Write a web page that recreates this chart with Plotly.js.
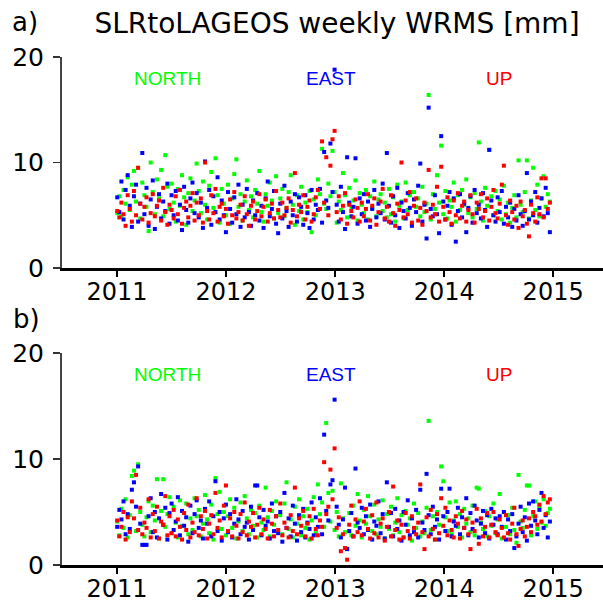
<!DOCTYPE html>
<html>
<head>
<meta charset="utf-8">
<script src="https://cdn.plot.ly/plotly-3.0.1.min.js"></script>
<style>html,body{margin:0;padding:0;background:#fff;}#chart{width:603px;height:603px;}</style>
</head>
<body>
<div id="chart"></div>
<script>
// ---- data ----
const firstWeek = '2011-01-02';   // first weekly solution
const seriesNames = ['NORTH', 'EAST', 'UP'];
const xTickYears = ['2011', '2012', '2013', '2014', '2015'];
const chartTitle = 'SLRtoLAGEOS weekly WRMS [mm]';

// panel a) weekly WRMS [mm]
const northA = [
  5.2,6.8,4.9,7.4,6.1,8.6,5.5,7.9,9.2,6.3,9.5,4.7,8.1,
  6.9,5.8,3.5,10.0,7.2,5.1,8.4,6.6,9.3,4.9,10.7,7.7,5.6,
  8.0,6.2,4.4,7.5,5.9,8.8,6.7,4.1,7.1,8.5,5.4,6.4,9.9,
  7.3,5.2,8.2,6.0,4.6,7.8,9.1,5.7,10.4,6.9,4.3,7.5,6.1,
  5.0,7.9,4.2,6.6,8.9,10.3,5.8,7.0,4.5,6.3,8.3,5.5,6.8,
  4.8,7.4,6.1,9.2,5.3,4.4,7.0,5.9,8.1,6.4,4.7,8.7,5.2,
  6.6,7.5,4.9,5.7,7.2,8.8,6.0,4.1,6.9,5.4,7.7,4.6,6.2,
  5.3,7.3,3.4,6.5,5.0,8.4,7.0,11.3,6.1,5.6,8.0,6.8,11.1,
  7.2,4.3,6.3,5.5,9.0,6.9,4.8,7.6,5.8,6.4,8.3,4.5,7.1,
  6.0,5.2,7.4,4.6,6.8,5.7,8.2,4.9,6.5,7.0,5.4,6.2,4.8,
  7.5,5.1,6.7,4.4,7.9,5.9,6.3,4.7,8.1,5.5,6.9,4.2,7.2,
  5.8,6.6,4.9,7.7,5.3,6.1,16.4,4.6,7.0,5.6,8.8,6.2,11.6,
  5.1,7.3,4.7,6.4,5.8,8.1,4.4,6.9,5.5,7.4,6.0,8.4,5.2,
  6.7,4.8,7.1,5.6,11.9,6.3,4.5,7.6,5.9,11.2,6.8,5.0,7.3,
  5.4,6.5,4.6,7.8,5.1,6.2,4.3,5.7,6.9,4.8,10.2,6.0,5.3,
  7.2,10.2,4.7,6.4,9.5,5.5,7.9,4.9,6.6,8.7,5.8,7.0,6.3
];
const eastA = [
  6.7,5.3,8.2,4.6,7.4,8.8,5.9,3.9,6.8,7.9,4.4,6.1,10.9,
  5.1,7.6,4.0,6.5,8.3,3.7,5.8,7.0,4.7,6.3,5.4,8.0,4.2,
  6.9,5.0,7.3,4.5,6.0,3.6,7.7,5.5,4.3,6.6,8.1,5.2,7.1,
  4.8,6.2,3.8,10.1,5.7,7.4,4.1,6.8,5.3,8.6,4.6,6.4,5.0,
  3.4,7.2,5.6,4.3,6.7,5.1,7.9,3.9,6.0,4.8,7.5,5.3,4.0,
  6.4,5.0,7.1,4.5,5.9,3.8,6.6,8.2,4.9,5.6,7.3,4.2,3.3,
  6.1,4.7,7.8,5.4,3.9,6.3,5.0,7.0,4.4,6.7,5.8,4.1,6.9,
  5.2,3.8,7.4,4.6,6.0,5.5,7.5,4.3,11.0,6.4,5.7,11.8,7.2,
  18.8,6.0,4.4,7.7,5.3,3.7,10.5,6.2,4.9,5.8,10.4,4.2,6.6,
  5.1,7.0,4.5,6.3,3.9,5.6,7.4,4.8,6.1,5.2,8.0,4.6,10.9,
  5.9,4.3,6.8,5.0,7.6,3.8,6.2,5.4,4.7,7.1,5.7,4.0,6.5,
  5.3,7.8,9.9,4.4,6.0,2.8,15.2,5.6,4.9,6.9,5.1,3.3,12.5,
  6.3,4.6,5.9,7.2,4.1,6.6,2.5,5.4,7.0,4.8,6.1,3.4,5.7,
  6.8,4.3,7.4,5.2,6.0,4.7,7.1,5.5,3.9,11.2,6.4,5.0,4.4,
  6.7,5.3,7.3,4.2,5.8,4.8,6.2,3.9,5.6,4.5,6.9,5.1,4.0,
  5.4,9.0,4.6,6.3,5.0,7.2,4.3,5.7,6.6,4.9,7.6,5.2,3.4
];
const upA = [
  5.4,4.8,6.2,5.1,4.0,6.9,5.6,4.4,7.3,5.0,9.5,6.1,4.6,
  5.8,6.7,4.3,5.2,7.0,4.9,5.9,6.4,4.5,7.6,5.3,4.1,6.0,
  5.5,4.7,6.8,5.1,7.4,4.2,5.7,6.3,4.8,5.9,7.1,4.5,6.2,
  5.0,6.6,4.3,10.0,5.4,4.6,6.9,5.2,7.5,4.4,5.8,6.1,4.9,
  5.6,4.2,6.5,5.0,7.2,4.7,5.3,6.0,4.5,6.8,5.1,4.0,5.9,
  6.3,4.6,5.4,7.0,4.9,5.8,6.5,4.4,5.2,6.1,4.7,7.3,5.5,
  4.8,6.2,5.0,5.7,6.6,4.3,5.5,9.0,4.9,6.0,5.3,6.9,4.6,
  5.8,6.4,4.4,5.1,6.7,7.4,5.6,12.0,6.2,10.5,5.0,9.7,12.2,
  13.0,5.3,6.8,4.6,5.9,7.1,4.2,6.0,5.4,4.8,6.5,5.7,4.4,
  6.2,4.9,5.6,7.0,4.5,5.9,6.6,4.1,5.3,6.3,7.5,4.7,5.8,
  4.4,6.9,5.2,4.0,6.1,5.5,10.0,4.8,6.4,5.1,7.2,4.3,5.9,
  6.6,4.5,5.7,4.1,6.2,5.4,9.3,4.8,6.0,5.1,7.7,4.4,9.6,
  5.8,4.6,6.7,5.3,4.2,6.4,5.0,7.1,4.7,5.9,6.3,4.4,5.5,
  6.9,5.1,4.3,6.2,5.6,7.0,4.8,5.4,6.6,4.5,5.8,7.4,5.2,
  4.7,6.1,7.9,9.7,5.0,4.1,6.4,5.3,4.6,5.9,3.8,6.3,4.9,
  5.5,4.2,3.0,6.0,5.2,4.4,6.7,5.1,8.5,4.8,8.5,5.6,6.2
];

// panel b) weekly WRMS [mm]
const northB = [
  4.1,2.8,5.3,3.5,6.2,2.6,4.7,8.4,8.9,3.2,9.5,5.0,3.8,
  2.7,4.5,6.0,3.1,5.6,4.2,8.1,2.5,5.1,8.1,3.6,4.8,6.4,
  3.0,5.5,4.0,2.6,6.1,3.7,4.9,5.8,2.9,4.4,3.3,6.3,4.6,
  5.2,2.7,3.9,6.6,4.3,3.0,5.7,2.4,8.2,4.8,6.9,3.4,5.0,
  2.8,4.6,6.2,3.5,5.4,2.5,4.1,5.9,3.2,6.5,4.4,2.9,5.2,
  3.7,4.9,2.6,5.6,4.0,3.3,7.3,4.5,2.7,5.1,3.8,6.0,3.1,
  4.7,2.9,5.8,7.8,3.4,4.3,2.6,5.5,3.9,6.2,2.8,4.6,3.5,
  5.3,2.4,4.2,6.4,3.0,7.6,4.8,5.9,3.6,13.4,6.8,4.1,7.0,
  3.3,5.0,2.7,7.7,4.4,3.1,1.5,4.9,2.8,5.6,3.7,6.7,4.2,
  2.6,5.2,3.9,6.5,4.6,3.2,5.7,2.9,4.3,3.6,6.1,2.5,4.8,
  3.4,5.5,2.8,4.0,6.3,3.1,4.7,2.6,5.1,3.8,4.4,2.3,5.8,
  3.5,4.9,2.7,4.1,3.0,5.4,13.6,3.3,4.6,2.4,5.0,3.8,9.3,
  7.9,4.5,3.2,5.9,2.9,4.2,6.0,3.6,4.8,2.6,5.3,3.9,4.4,
  3.1,5.6,2.8,7.3,7.2,4.0,3.4,5.1,2.7,4.6,3.7,5.8,3.0,
  4.3,6.7,2.5,5.0,3.6,4.7,2.9,5.4,3.3,2.1,8.5,4.1,3.5,
  5.2,7.5,7.5,2.8,4.6,6.0,3.4,5.5,4.0,6.2,3.7,4.9,5.3
];
const eastB = [
  3.6,5.2,4.3,6.0,2.9,4.8,3.4,7.1,7.8,5.5,9.3,3.9,1.9,
  1.9,1.9,4.6,6.3,3.1,5.0,2.6,4.4,6.7,3.8,5.4,2.4,4.9,
  5.8,3.3,4.1,6.4,2.8,5.1,3.7,4.5,2.2,5.6,3.0,4.8,6.1,
  3.5,4.2,2.5,5.3,3.9,6.0,2.7,4.6,7.9,3.2,5.0,2.3,4.4,
  5.7,3.1,4.8,2.6,3.9,6.2,4.3,2.9,5.1,3.6,4.0,2.4,5.5,
  3.3,7.5,7.5,4.5,2.8,5.2,3.7,4.1,2.5,5.8,3.2,4.6,3.0,
  5.0,2.2,6.8,3.5,4.4,2.7,5.6,3.9,2.3,4.7,3.1,5.3,2.6,
  4.0,3.4,5.9,2.8,4.5,3.6,6.3,2.9,12.3,5.1,4.2,7.6,8.0,
  15.6,5.5,3.8,2.6,4.3,7.3,1.5,3.2,4.9,2.7,9.1,4.0,3.5,
  5.4,2.9,4.6,3.3,5.7,2.4,4.1,3.7,6.0,3.0,4.8,2.5,7.8,
  3.6,4.9,2.7,5.3,3.4,4.2,2.3,5.0,3.8,6.1,2.8,4.4,3.1,
  5.2,2.6,7.1,4.0,3.3,8.6,4.7,2.9,5.5,3.6,4.3,2.4,7.2,
  4.6,3.2,5.0,7.2,2.7,4.1,3.7,5.4,2.9,4.5,3.5,6.3,2.8,
  4.9,3.4,5.6,4.2,2.6,3.9,5.1,3.0,4.7,2.5,5.3,3.8,4.4,
  2.9,4.6,3.6,5.0,2.4,4.3,3.2,4.8,1.6,2.7,3.9,5.5,3.1,
  4.5,2.3,5.8,3.7,6.0,4.2,2.9,5.2,6.8,3.5,4.7,2.6,4.1
];
const upB = [
  4.2,2.7,3.6,5.0,2.4,4.5,3.1,6.0,4.4,8.5,3.3,5.4,2.9,
  4.0,3.5,6.2,2.6,4.8,3.2,5.5,2.5,4.1,3.8,6.5,2.8,4.6,
  3.0,5.2,2.7,4.3,3.6,2.4,4.9,3.3,5.7,2.6,4.0,3.1,6.3,
  2.8,4.6,3.4,5.1,2.5,3.9,4.7,2.9,6.8,3.5,4.2,2.6,5.6,
  7.5,3.2,4.4,2.7,5.0,3.7,2.5,4.8,3.1,5.9,2.8,4.1,3.6,
  4.9,2.6,3.8,5.4,2.9,4.3,3.4,2.5,5.2,3.9,2.7,4.6,3.3,
  5.8,2.8,4.0,3.5,2.6,4.7,3.2,7.3,2.9,4.4,3.7,5.1,2.7,
  3.9,4.6,2.5,5.3,3.4,2.8,4.2,3.6,9.7,4.8,5.5,9.0,6.2,
  11.0,3.5,4.5,1.3,2.9,1.6,0.5,3.8,5.6,2.7,4.3,3.1,6.0,
  2.8,4.1,5.3,3.4,2.5,4.7,3.0,5.9,2.6,3.9,4.4,2.3,3.6,
  5.0,2.7,7.4,3.3,4.2,2.4,3.8,2.6,4.9,3.2,2.5,4.6,3.5,
  2.9,4.0,7.6,3.1,1.5,4.5,2.7,5.2,3.4,2.4,4.8,3.0,6.3,
  3.7,5.4,2.8,4.2,3.3,2.6,4.6,3.9,2.5,5.1,3.5,4.3,2.9,
  1.5,4.0,3.2,5.3,2.0,4.4,2.7,3.6,4.9,2.6,3.8,5.0,3.1,
  2.8,4.3,3.5,2.6,4.7,3.0,2.4,3.9,5.4,2.9,1.8,3.4,4.2,
  2.7,3.6,4.4,3.1,5.0,4.6,3.8,5.7,4.1,6.5,4.8,5.9,6.2
];

// ---- build ----
function weekDates(n) {
  const t0 = Date.parse(firstWeek + 'T00:00:00Z');
  const out = [];
  for (let i = 0; i < n; i++) {
    out.push(new Date(t0 + i * 7 * 86400000).toISOString().slice(0, 10));
  }
  return out;
}
const colors = ['#00ff00', '#0000ff', '#ff0000'];
const font = 'DejaVu Sans, Verdana, sans-serif';

function mk(vals, ci, xa, ya) {
  return {
    type: 'scatter', mode: 'markers',
    x: weekDates(vals.length), y: vals,
    xaxis: xa, yaxis: ya,
    marker: {symbol: 'square', size: 4, color: colors[ci], line: {width: 0}},
    name: seriesNames[ci], showlegend: false, hoverinfo: 'x+y'
  };
}
const traces = [
  mk(northA, 0, 'x', 'y'), mk(eastA, 1, 'x', 'y'), mk(upA, 2, 'x', 'y'),
  mk(northB, 0, 'x2', 'y2'), mk(eastB, 1, 'x2', 'y2'), mk(upB, 2, 'x2', 'y2')
];

const xRange = ['2010-07-01', '2015-06-17'];
const tickVals = xTickYears.map(y => y + '-01-01');
function xBottom(anchor) {
  return {
    type: 'date', range: xRange, anchor: anchor,
    tickmode: 'array', tickvals: tickVals, ticktext: xTickYears,
    ticks: 'outside', ticklen: 6, tickwidth: 1.5, tickcolor: '#000',
    ticklabelstandoff: -6,
    showline: true, linecolor: '#000', linewidth: 3,
    showgrid: false, zeroline: false,
    tickfont: {family: font, size: 24, color: '#000'}
  };
}
function xTop(anchor, over) {
  return {
    type: 'date', range: xRange, anchor: anchor, overlaying: over, side: 'top',
    tickmode: 'array', tickvals: tickVals, ticktext: xTickYears,
    ticks: 'outside', ticklen: 6, tickwidth: 1.5, tickcolor: '#222',
    showline: true, linecolor: '#555', linewidth: 1.5,
    showticklabels: false, showgrid: false, zeroline: false
  };
}
function yAx(domain, anchor) {
  return {
    domain: domain, anchor: anchor, range: [0, 20],
    tickmode: 'array', tickvals: [0, 10, 20], ticktext: ['0', '10', '20'],
    ticks: 'outside', ticklen: 7, tickwidth: 1.5, tickcolor: '#333',
    ticklabelstandoff: 4,
    showline: true, linecolor: '#444', linewidth: 2,
    showgrid: false, zeroline: false,
    tickfont: {family: font, size: 25, color: '#000'}
  };
}

const legendX = ['2011-06-21', '2012-12-18', '2014-07-02'];
const legendY = 18;
const annotations = [];
[['x', 'y'], ['x2', 'y2']].forEach(([xa, ya]) => {
  seriesNames.forEach((nm, k) => {
    annotations.push({
      xref: xa, yref: ya, x: legendX[k], y: legendY, text: nm, showarrow: false,
      xanchor: 'center', yanchor: 'middle',
      font: {family: 'Liberation Sans, Arial, sans-serif', size: 19, color: colors[k]}
    });
  });
});
annotations.push({xref: 'paper', yref: 'paper', x: -0.068, y: 1.069, text: 'a)', showarrow: false,
  xanchor: 'center', yanchor: 'middle', font: {family: font, size: 26, color: '#000'}});
annotations.push({xref: 'paper', yref: 'paper', x: -0.066, y: 0.484, text: 'b)', showarrow: false,
  xanchor: 'center', yanchor: 'middle', font: {family: font, size: 26, color: '#000'}});

const layout = {
  width: 603, height: 603,
  margin: {l: 62, r: 0, t: 57, b: 38, pad: 0},
  paper_bgcolor: '#fff', plot_bgcolor: '#fff',
  showlegend: false,
  title: {text: chartTitle, x: 337 / 603, xref: 'container', xanchor: 'center',
          y: 1 - 23 / 603, yref: 'container', yanchor: 'middle',
          font: {family: font, size: 28, color: '#000'}},
  xaxis: xBottom('y'),
  xaxis2: xBottom('y2'),
  xaxis3: xTop('y', 'x'),
  xaxis4: xTop('y2', 'x2'),
  yaxis: yAx([0.5846, 1], 'x'),
  yaxis2: yAx([0, 0.4173], 'x2'),
  annotations: annotations
};

Plotly.newPlot('chart', traces, layout, {staticPlot: true, displayModeBar: false});
</script>
</body>
</html>
